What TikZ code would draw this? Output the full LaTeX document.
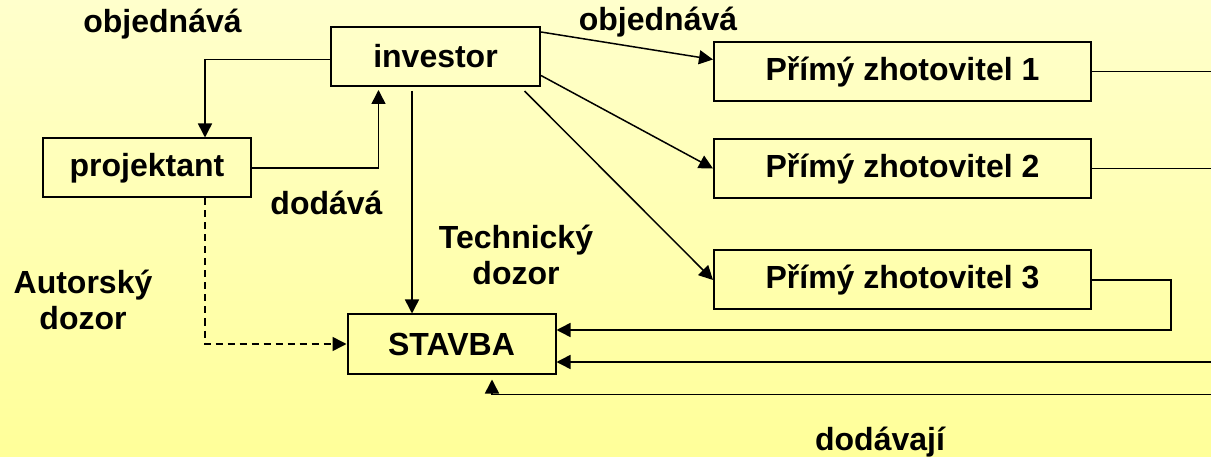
\documentclass[tikz,border=0pt]{standalone}
\usepackage{fontspec}
\setmainfont{Liberation Sans}
\usetikzlibrary{arrows.meta}
\definecolor{bgTop}{HTML}{FFFFCC}
\definecolor{bgBot}{HTML}{FFFF99}
\tikzset{every picture/.style={line width=1.5pt}}

\begin{document}
\begin{tikzpicture}[x=1pt,y=-1pt,
        font=\fontsize{32}{36}\selectfont\bfseries,
        box/.style={draw, line width=2pt, inner sep=0pt, minimum height=59pt},
        arr/.style={-{Triangle[length=14pt,width=14pt]}},
        align=center]
        \useasboundingbox (0,0) rectangle (1211,457);
        \shade[top color=bgTop, bottom color=bgBot] (0,0) rectangle (1211,457);
        \clip (0,0) rectangle (1211,457);

        \node[box, minimum width=209pt] (investor) at (435.5,56.5) {investor};
        \node[box, minimum width=208pt] (projektant) at (147,168) {projektant};
        \node[box, minimum width=208pt] (stavba) at (451.5,344) {STAVBA};
        \node[box, minimum width=377pt] (p1) at (902.5,71.5) {Přímý zhotovitel 1};
        \node[box, minimum width=377pt] (p2) at (902.5,168.5) {Přímý zhotovitel 2};
        \node[box, minimum width=377pt] (p3) at (902.5,280) {Přímý zhotovitel 3};

        \node (objL) at (162.5,24) {objednává};
        \node (objR) at (658,22) {objednává};
        \node (dodava) at (326.5,203) {dodává};
        \node (techdozor) at (516,255) {Technický\\dozor};
        \node (autdozor) at (83,300) {Autorský\\dozor};
        \node (dodavaji) at (880,442) {dodávají};

        \coordinate (tech) at ([xshift=-23.5pt,yshift=-4pt]investor.south);
        \coordinate (sb) at ([xshift=40.5pt]stavba.south);

        \draw[arr] ([yshift=-3pt]investor.west) -| ([xshift=58pt]projektant.north);
        \draw[arr] (projektant.east) -| ([xshift=-57pt,yshift=-3pt]investor.south);
        \draw[arr] (tech) -- (tech |- stavba.north);
        \draw[arr, dash pattern=on 7pt off 5pt] ([xshift=58pt]projektant.south) |- (stavba.west);

        \draw[arr] ([yshift=-6pt]investor.north east) -- ([yshift=12pt]p1.west);
        \draw[arr] ([yshift=-19pt]investor.east) -- (p2.west);
        \draw[arr] ([xshift=-16.5pt,yshift=-4pt]investor.south east) -- (p3.west);

        \draw[arr] (p3.east) -- ++(79,0) |- ([yshift=14pt]stavba.east);
        \draw[arr] (p2.east) -- ++(140,0) |- ([yshift=-18pt]stavba.east);
        \draw[arr] (p1.east) -- ++(150,0) |- ([yshift=-20pt]sb) -- ([yshift=-5pt]sb);
\end{tikzpicture}
\end{document}
